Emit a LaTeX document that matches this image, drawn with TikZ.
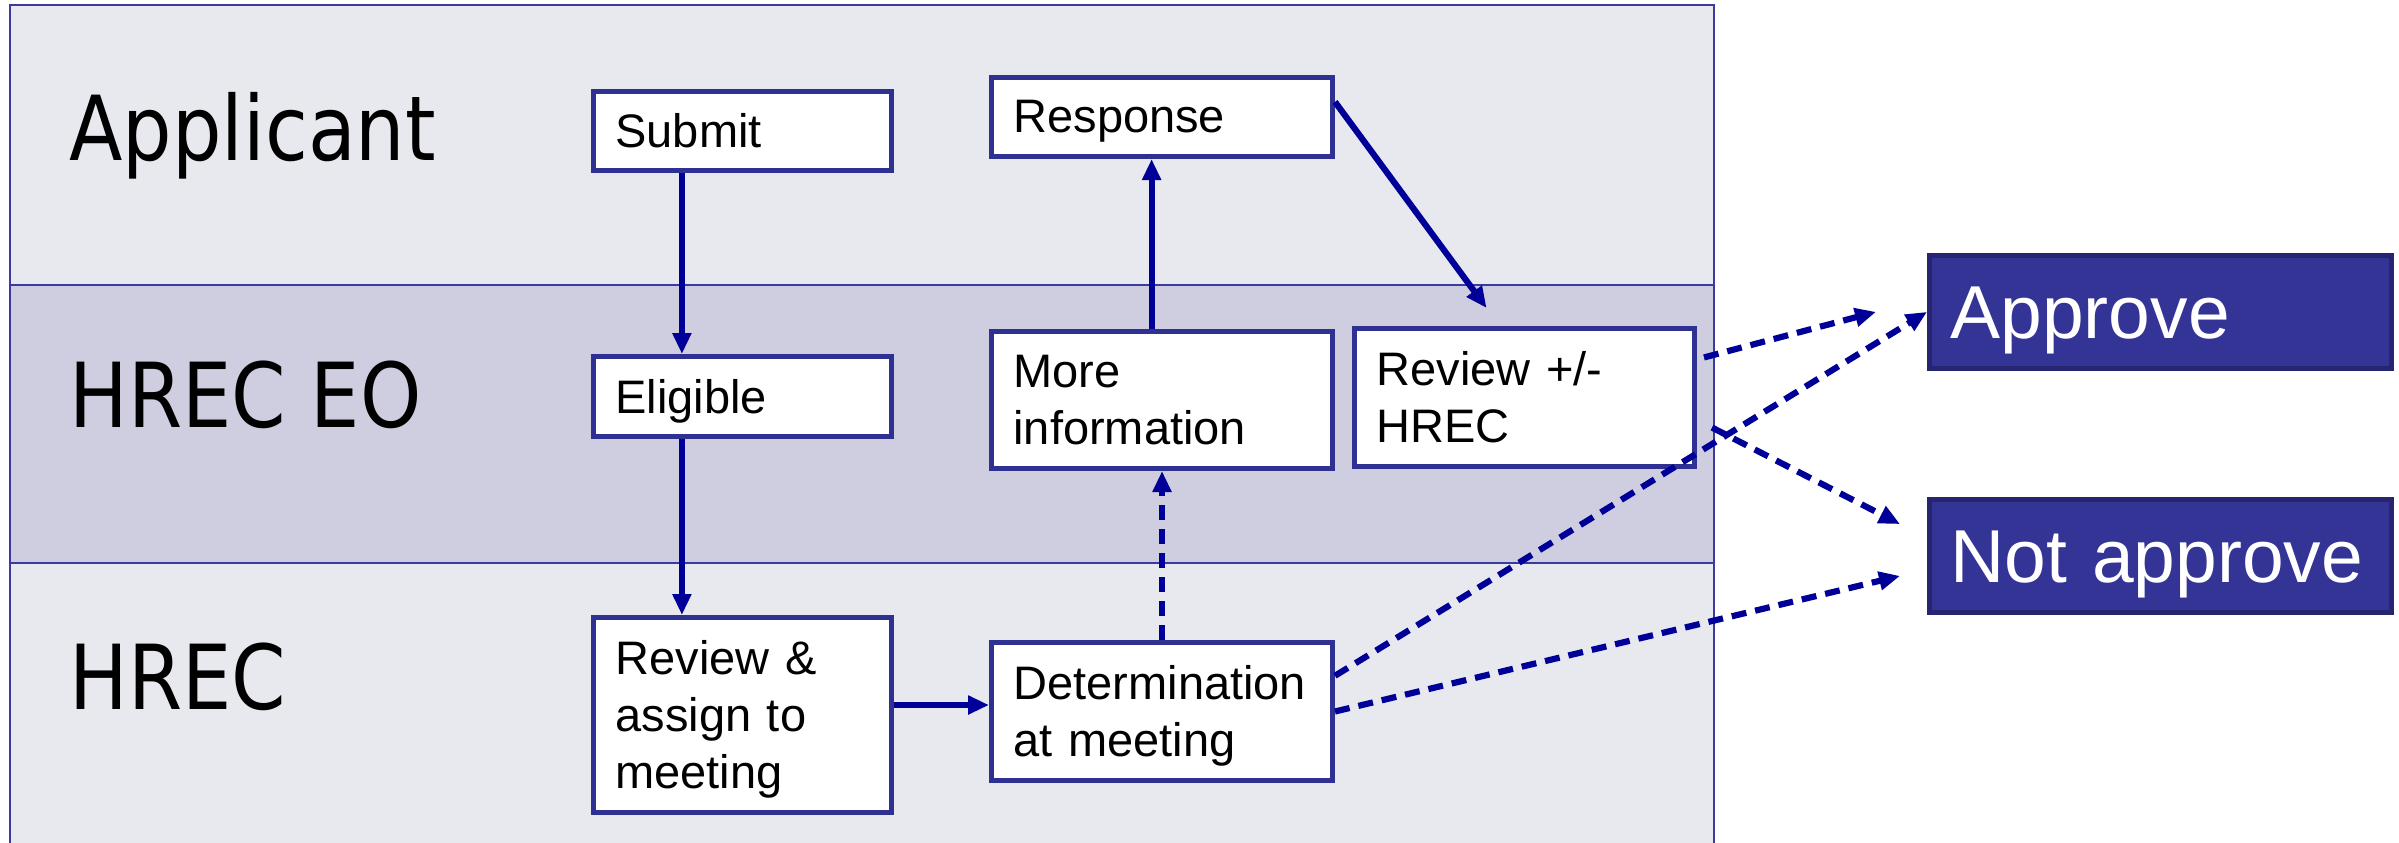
\documentclass[tikz,border=0pt]{standalone}
\usepackage{fontspec}
\setmainfont{Liberation Sans}
\newfontfamily\lanefont{DejaVu Sans}
\usetikzlibrary{calc,arrows.meta}
\definecolor{laneA}{RGB}{232,233,239}
\definecolor{laneB}{RGB}{207,206,224}
\definecolor{frameblue}{RGB}{58,58,160}
\definecolor{boxblue}{RGB}{47,49,146}
\definecolor{arrowblue}{RGB}{0,0,153}
\definecolor{decfill}{RGB}{52,52,150}
\definecolor{decborder}{RGB}{38,38,112}
\newcommand{\lanetext}[1]{\scalebox{1}[1.15]{#1}}
\begin{document}
\begin{tikzpicture}[x=0.5pt,y=-0.5pt,
  stepbox/.style={draw=boxblue, line width=2.5pt, fill=white, anchor=north west,
    align=left, inner xsep=11pt, inner ysep=0pt,
    font=\fontsize{23.5}{28.5}\selectfont},
  leftcol/.style={stepbox, minimum width=149pt, text width=127pt},
  midcol/.style={stepbox, minimum width=170.5pt, text width=148.5pt},
  decbox/.style={draw=decborder, line width=2.4pt, fill=decfill, text=white,
    anchor=north west, align=left, inner xsep=10.5pt, inner ysep=0pt,
    minimum width=231pt, text width=210pt, minimum height=56.5pt,
    text height=27pt, text depth=0pt, font=\fontsize{37.5}{44}\selectfont},
  lanelabel/.style={anchor=base west, inner sep=0pt, font=\lanefont\fontsize{39}{44}\selectfont},
  flow/.style={draw=arrowblue, line width=3.1pt, -{Triangle[length=10.5pt,width=9pt]}},
  dflow/.style={flow, dash pattern=on 7.5pt off 4.5pt},
  laneline/.style={draw=frameblue, line width=1.3pt}
]
\useasboundingbox (0,0) rectangle (2399,842);
\fill[white] (0,0) rectangle (2399,842);
% lanes
\fill[laneA] (10,5) rectangle (1714,285);
\fill[laneB] (10,285) rectangle (1714,563);
\fill[laneA] (10,563) rectangle (1714,850);
\draw[laneline] (10,850) -- (10,5) -- (1714,5) -- (1714,850);
\draw[laneline] (10,285) -- (1714,285);
\draw[laneline] (10,563) -- (1714,563);
% lane labels
\node[lanelabel] (lA) at (69,160) {\lanetext{Applicant}};
\node[lanelabel] (lB) at (69,427) {\lanetext{HREC EO}};
\node[lanelabel] (lC) at (69,709) {\lanetext{HREC}};
% step boxes
\node[leftcol, minimum height=39.5pt] (sub) at (591,89) {Submit};
\node[leftcol, minimum height=40pt] (eli) at (591,354) {Eli\smash{g}ible};
\node[leftcol, minimum height=97.5pt] (rva) at (591,615) {Review \&\\assign to\\meetin\smash{g}};
\node[midcol, minimum height=39.5pt] (resp) at (989,75) {Res\smash{p}onse};
\node[midcol, minimum height=68.5pt] (more) at (989,329) {More\\information};
\node[midcol, minimum height=69pt] (det) at (989,640) {Determination\\at meetin\smash{g}};
\node[stepbox, minimum width=170pt, text width=148pt, minimum height=69pt] (rev) at (1352,326) {Review +/-\\HREC};
% decisions
\node[decbox] (app) at (1927,253) {Approve};
\node[decbox] (napp) at (1927,497) {Not approve};
% connectors
\coordinate (s1) at ($(sub.south west)!0.3!(sub.south east)$);
\draw[flow] (s1) -- (s1 |- eli.north);
\coordinate (e1) at ($(eli.south west)!0.3!(eli.south east)$);
\draw[flow] (e1) -- (e1 |- rva.north);
\coordinate (r1) at ($(rva.north east)!0.45!(rva.south east)$);
\draw[flow] (r1) -- (r1 -| det.west);
\coordinate (m1) at ($(more.north west)!0.47!(more.north east)$);
\draw[flow] (m1) -- (m1 |- resp.south);
\draw[dflow] (det.north) -- (det.north |- more.south);
\coordinate (p1) at ($(resp.north east)!0.32!(resp.south east)$);
\coordinate (p2) at ($(rev.north west)!0.39!(rev.north east)+(0,-18)$);
\draw[flow] (p1) -- (p2);
\coordinate (ra) at ($(rev.north east)!0.22!(rev.south east)+(7,0)$);
\coordinate (ta) at ($(app.west)+(-51,0)$);
\draw[dflow] (ra) -- (ta);
\coordinate (da) at ($(det.north east)!0.25!(det.south east)$);
\draw[dflow] (da) -- (app.west);
\coordinate (rn) at ($(rev.north east)!0.71!(rev.south east)+(15,0)$);
\coordinate (tn1) at ($(napp.north west)!0.23!(napp.south west)+(-27,0)$);
\draw[dflow] (rn) -- (tn1);
\coordinate (tn2) at ($(napp.north west)!0.67!(napp.south west)+(-27,0)$);
\draw[dflow] (det.east) -- (tn2);
\end{tikzpicture}
\end{document}
